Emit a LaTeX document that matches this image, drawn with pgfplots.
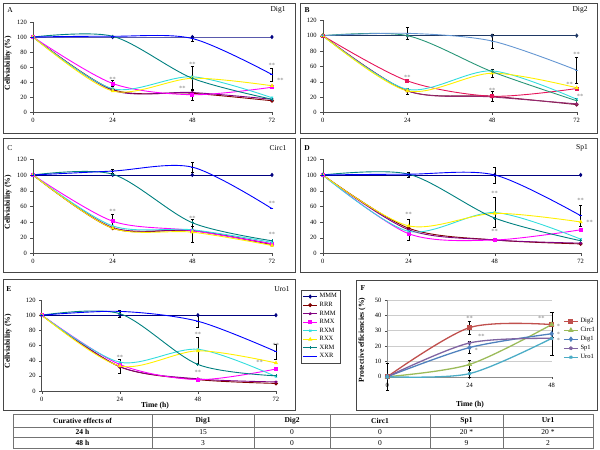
\documentclass[border=0pt]{standalone}
\usepackage{pgfplots}
\pgfplotsset{compat=1.18}
\usepackage{fontspec}
\setmainfont{Liberation Serif}

% Excel 2003 line colours
\definecolor{cMMM}{RGB}{0,0,128}
\definecolor{cRRR}{RGB}{128,0,0}
\definecolor{cRMM}{RGB}{128,0,128}
\definecolor{cRMX}{RGB}{255,0,255}
\definecolor{cRXM}{RGB}{51,221,221}
\definecolor{cRXX}{RGB}{255,240,0}
\definecolor{cXRM}{RGB}{0,128,128}
\definecolor{cXXR}{RGB}{0,0,255}
% panel B has its own palette
\definecolor{bMMM}{RGB}{31,56,100}
\definecolor{bRRR}{RGB}{120,20,60}
\definecolor{bRMM}{RGB}{150,40,110}
\definecolor{bRMX}{RGB}{230,20,90}
\definecolor{bXRM}{RGB}{40,150,120}
\definecolor{bXXR}{RGB}{100,150,210}
% panel F
\definecolor{fDig2}{RGB}{192,80,77}
\definecolor{fCirc}{RGB}{155,187,89}
\definecolor{fDig1}{RGB}{79,129,189}
\definecolor{fSp}{RGB}{128,100,162}
\definecolor{fUro}{RGB}{75,172,198}
\definecolor{boxc}{RGB}{70,70,70}

\tikzset{ann/.style={font=\fontsize{6.5}{7}\selectfont, text=black!50, inner sep=0pt}}

\pgfplotsset{
  ser/.style={color=#1, mark options={solid, fill=#1}},
  sMMM/.style={ser=#1, mark=diamond*}, sMMM/.default=cMMM,
  sRRR/.style={ser=#1, mark=*}, sRRR/.default=cRRR,
  sRMM/.style={ser=#1, mark=star}, sRMM/.default=cRMM,
  sRMX/.style={ser=#1, mark=square*}, sRMX/.default=cRMX,
  sRXM/.style={ser=#1, mark=x}, sRXM/.default=cRXM,
  sRXX/.style={ser=#1, mark=triangle*}, sRXX/.default=cRXX,
  sXRM/.style={ser=#1, mark=+}, sXRM/.default=cXRM,
  sXXR/.style={ser=#1, mark=-}, sXXR/.default=cXXR,
  eb/.style={error bars/.cd, y dir=both, y explicit,
    error bar style={black, line width=0.4pt}},
  panel/.style={
    scale only axis, anchor=origin,
    xmin=0, xmax=72, ymin=0, ymax=120,
    xtick={0,24,48,72}, ytick={0,20,...,120},
    axis lines*=left, axis line style={black!70},
    tick align=outside, major tick length=2.5pt, tick style={black!70},
    tick label style={font=\fontsize{6.5}{7}\selectfont},
    /pgf/number format/assume math mode=true,
    clip=false,
    every axis plot/.append style={smooth, line width=0.9pt, mark size=1.5pt},
  },
}

\begin{document}
\begin{tikzpicture}
\useasboundingbox (0,0) rectangle (600pt,-450pt);

% ---------- A : Dig1
\begin{axis}[panel, at={(33pt,-112pt)}, width=239pt, height=90pt]
\addplot[sMMM] coordinates {(0,100) (24,100) (48,100) (72,100)};
\addplot[sRRR] coordinates {(0,100) (24,30) (48,25) (72,15)};
\addplot[sRMM] coordinates {(0,100) (24,29) (48,26) (72,17)};
\addplot[sRMX, eb] coordinates {(0,100) (24,38) +- (0,4) (48,23) +- (0,7) (72,33)};
\addplot[sRXM] coordinates {(0,100) (24,31) (48,47) (72,19)};
\addplot[sRXX] coordinates {(0,100) (24,28) (48,45) (72,35)};
\addplot[sXRM, eb] coordinates {(0,100) (24,101) (48,45) +- (0,16) (72,17)};
\addplot[sXXR, eb] coordinates {(0,100) (24,101) (48,98) +- (0,3) (72,50) +- (0,9)};
\node[ann] at (axis cs:24,44) {**};
\node[ann] at (axis cs:48,64) {**};
\node[ann] at (axis cs:45,31) {**};
\node[ann] at (axis cs:72,62) {**};
\node[ann] at (axis cs:74.5,42) {**};
\end{axis}

% ---------- B : Dig2
\begin{axis}[panel, at={(322.7pt,-112.3pt)}, width=254pt, height=92pt]
\addplot[sMMM=bMMM] coordinates {(0,100) (24,100) (48,100) (72,100)};
\addplot[sRRR=bRRR, eb] coordinates {(0,100) (24,28) +- (0,4) (48,21) (72,10)};
\addplot[sRMM=bRMM] coordinates {(0,100) (24,28) (48,20) (72,11)};
\addplot[sRMX=bRMX, eb] coordinates {(0,100) (24,41) (48,21) +- (0,7) (72,31)};
\addplot[sRXM] coordinates {(0,100) (24,30) (48,54) (72,17)};
\addplot[sRXX, eb] coordinates {(0,100) (24,28) +- (0,4) (48,51) +- (0,5) (72,32)};
\addplot[sXRM=bXRM, eb] coordinates {(0,100) (24,100) (48,53) (72,15) +- (0,4)};
\addplot[sXXR=bXXR, eb] coordinates {(0,100) (24,103) +- (0,8) (48,93) +- (0,9) (72,55) +- (0,17)};
\node[ann] at (axis cs:24,46) {**};
\node[ann] at (axis cs:48,29) {**};
\node[ann] at (axis cs:72,75) {**};
\node[ann] at (axis cs:70,37) {**};
\node[ann] at (axis cs:73,21) {**};
\end{axis}

% ---------- C : Circ1
\begin{axis}[panel, at={(33pt,-253.3pt)}, width=239pt, height=94pt]
\addplot[sMMM] coordinates {(0,100) (24,100) (48,100) (72,100)};
\addplot[sRRR] coordinates {(0,100) (24,32) (48,29) (72,11)};
\addplot[sRMM] coordinates {(0,100) (24,33) (48,29) (72,12)};
\addplot[sRMX, eb] coordinates {(0,100) (24,41) +- (0,9) (48,29) (72,12)};
\addplot[sRXM] coordinates {(0,100) (24,35) (48,30) (72,14)};
\addplot[sRXX, eb] coordinates {(0,100) (24,32) (48,27) +- (0,13) (72,10)};
\addplot[sXRM, eb] coordinates {(0,100) (24,101) (48,39) +- (0,4) (72,16)};
\addplot[sXXR, eb] coordinates {(0,100) (24,105) +- (0,3) (48,110) +- (0,6) (72,57)};
\node[ann] at (axis cs:24,53) {**};
\node[ann] at (axis cs:48,44) {**};
\node[ann] at (axis cs:72,64) {**};
\node[ann] at (axis cs:72,24) {**};
\end{axis}

% ---------- D : Sp1
\begin{axis}[panel, at={(322.7pt,-253.3pt)}, width=258pt, height=94pt]
\addplot[sMMM, eb] coordinates {(0,100) (24,100) +- (0,3) (48,100) (72,100)};
\addplot[sRRR] coordinates {(0,100) (24,32) (48,17) (72,12)};
\addplot[sRMM] coordinates {(0,100) (24,30) (48,17) (72,13)};
\addplot[sRMX, eb] coordinates {(0,100) (24,25) +- (0,8) (48,17) (72,30)};
\addplot[sRXM, eb] coordinates {(0,100) (24,28) (48,52) +- (0,19) (72,18)};
\addplot[sRXX, eb] coordinates {(0,100) (24,35) +- (0,9) (48,51) (72,40)};
\addplot[sXRM] coordinates {(0,100) (24,101) (48,45) (72,16)};
\addplot[sXXR, eb] coordinates {(0,100) (24,101) (48,100) +- (0,10) (72,48) +- (0,13)};
\node[ann] at (axis cs:24,50) {**};
\node[ann] at (axis cs:48,76) {**};
\node[ann] at (axis cs:48,28) {**};
\node[ann] at (axis cs:72,67) {**};
\node[ann] at (axis cs:74.5,40) {**};
\end{axis}

% ---------- E : Uro1, carries the legend for A-E
\begin{axis}[panel, at={(41.7pt,-391pt)}, width=234.3pt, height=91pt,
  legend style={at={(1.107,1.11)}, anchor=north west, draw=boxc,
    font=\fontsize{6.5}{7}\selectfont, row sep=-1.2pt, inner sep=1.5pt},
  legend cell align=left,
  legend image code/.code={\draw[mark repeat=2, mark phase=2]
    plot coordinates {(0pt,0pt) (7pt,0pt) (14pt,0pt)};}]
\addplot[sMMM] coordinates {(0,100) (24,100) (48,100) (72,100)};
\addplot[sRRR] coordinates {(0,100) (24,32) (48,15) (72,10)};
\addplot[sRMM] coordinates {(0,100) (24,32) (48,16) (72,12)};
\addplot[sRMX] coordinates {(0,100) (24,35) (48,15) (72,29)};
\addplot[sRXM] coordinates {(0,100) (24,38) (48,55) (72,19)};
\addplot[sRXX, eb] coordinates {(0,100) (24,33) +- (0,9) (48,53) +- (0,18) (72,37)};
\addplot[sXRM, eb] coordinates {(0,100) (24,102) +- (0,5) (48,35) (72,20)};
\addplot[sXXR, eb] coordinates {(0,100) (24,105) (48,92) +- (0,8) (72,52) +- (0,10)};
\legend{MMM,RRR,RMM,RMX,RXM,RXX,XRM,XXR}
\node[ann] at (axis cs:24,45) {**};
\node[ann] at (axis cs:48,75) {**};
\node[ann] at (axis cs:48,25) {**};
\node[ann] at (axis cs:72,60) {**};
\node[ann] at (axis cs:67,38) {**};
\end{axis}

% ---------- F : protective efficiencies
\begin{axis}[panel, at={(387.3pt,-376.7pt)}, width=164.4pt, height=76.7pt,
  xmin=0, xmax=48, xtick={0,24,48}, ymin=0, ymax=50, ytick={0,10,...,50},
  ymajorgrids, grid style={black!20}, axis line style={black!45},
  every axis plot/.append style={line width=1.3pt, mark size=1.8pt},
  legend style={at={(1.069,0.79)}, anchor=north west, draw=none,
    font=\fontsize{6.5}{7}\selectfont, row sep=-0.8pt, inner sep=0pt},
  legend cell align=left,
  legend image code/.code={\draw[mark repeat=2, mark phase=2]
    plot coordinates {(0pt,0pt) (7pt,0pt) (14pt,0pt)};}]
\addplot[ser=fDig2, mark=square*, eb] coordinates {(0,0) (24,32) +- (0,4) (48,34) +- (0,8)};
\addplot[ser=fCirc, mark=triangle*, eb] coordinates {(0,0) (24,8) +- (0,3) (48,34)};
\addplot[ser=fDig1, mark=diamond*, eb] coordinates {(0,0) +- (0,9) (24,19) +- (0,4) (48,28) +- (0,14)};
\addplot[ser=fSp, mark=star] coordinates {(0,0) (24,22) (48,25)};
\addplot[ser=fUro, mark=x, eb] coordinates {(0,0) (24,2) +- (0,2) (48,25)};
\legend{Dig2,Circ1,Dig1,Sp1,Uro1}
\node[ann] at (axis cs:24,38) {**};
\node[ann] at (axis cs:27.5,26) {**};
\node[ann] at (axis cs:26,17) {*};
\node[ann] at (axis cs:45,38) {**};
\node[ann] at (axis cs:50,33) {*};
\node[ann] at (axis cs:50,27.5) {*};
\node[ann] at (axis cs:50,24) {*};
\end{axis}

% ---------- frames, panel letters and axis titles
\begin{scope}[x=1pt, y=1pt]
\draw[boxc, line width=0.7pt] (3,-3) rectangle (295,-133);
\draw[boxc, line width=0.7pt] (300,-3) rectangle (597,-133);
\draw[boxc, line width=0.7pt] (3,-138) rectangle (295,-272);
\draw[boxc, line width=0.7pt] (300,-138) rectangle (597,-272);
\draw[boxc, line width=0.7pt] (3,-279) rectangle (295,-410);
\draw[boxc, line width=0.7pt] (356,-280) rectangle (597,-410);

\begin{scope}[every node/.style={font=\fontsize{7.5}{8}\selectfont, inner sep=0pt}]
\node at (10,-10) {A};
\node at (278,-10) {Dig1};
\node at (307,-10) {\bfseries B};
\node at (580,-10) {Dig2};
\node at (10,-148) {C};
\node at (278,-148) {Circ1};
\node at (307,-148) {\bfseries D};
\node at (582,-148) {Sp1};
\node at (9,-289) {\bfseries E};
\node at (282,-289) {Uro1};
\node at (363,-288) {\bfseries F};
\end{scope}

\begin{scope}[every node/.style={font=\bfseries\fontsize{7.6}{8}\selectfont, inner sep=0pt}]
\node[rotate=90] at (8,-63) {Cellviability (\%)};
\node[rotate=90] at (8,-202) {Cellviability (\%)};
\node[rotate=90] at (8,-341) {Cellviability (\%)};
\node[rotate=90] at (362,-340) {Protective efficiencies (\%)};
\node at (155,-406) {Time (h)};
\node at (470,-405) {Time (h)};
\end{scope}

% ---------- curative effects table
\draw[black!55, line width=0.5pt] (13,-414) rectangle (593,-448);
\foreach \yy in {427,437.5} \draw[black!55, line width=0.5pt] (13,-\yy) -- (593,-\yy);
\foreach \xx in {152,254,330,430,503} \draw[black!55, line width=0.5pt] (\xx,-414) -- (\xx,-448);
\begin{scope}[every node/.style={font=\fontsize{7.5}{8}\selectfont, inner sep=0pt}]
\node at (82.5,-420.5) {\bfseries Curative effects of};
\node at (203,-420.5) {\bfseries Dig1};
\node at (292,-420.5) {\bfseries Dig2};
\node at (380,-420.5) {\bfseries Circ1};
\node at (466.5,-420.5) {\bfseries Sp1};
\node at (548,-420.5) {\bfseries Ur1};
\node at (82.5,-432.2) {\bfseries 24 h};
\node at (203,-432.2) {15};
\node at (292,-432.2) {0};
\node at (380,-432.2) {0};
\node at (466.5,-432.2) {20 *};
\node at (548,-432.2) {20 *};
\node at (82.5,-442.8) {\bfseries 48 h};
\node at (203,-442.8) {3};
\node at (292,-442.8) {0};
\node at (380,-442.8) {0};
\node at (466.5,-442.8) {9};
\node at (548,-442.8) {2};
\end{scope}
\end{scope}
\end{tikzpicture}
\end{document}
